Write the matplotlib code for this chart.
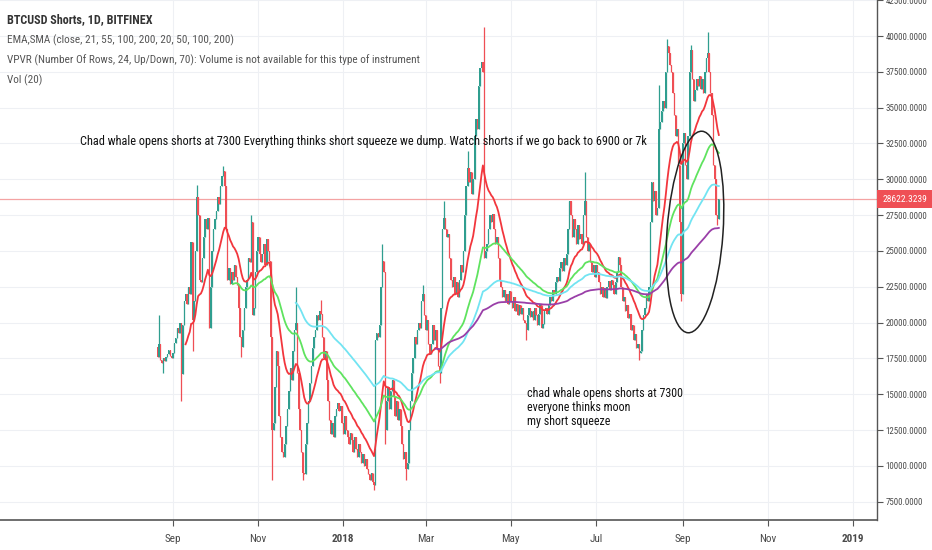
import numpy as np
import pandas as pd
import matplotlib
matplotlib.use("Agg")
import matplotlib.pyplot as plt
import matplotlib.dates as mdates
from matplotlib import font_manager as fm
from matplotlib.patches import Ellipse, Rectangle
from matplotlib.transforms import IdentityTransform, blended_transform_factory

# ---------------- data ----------------
start_date = "2017-08-21"
first_open_k = 18.3
closes_k = [
    17.6, 18.5, 17.4, 17.2, 17.5, 17.3, 17.6, 17.8, 18.1, 17.7, 17.5, 17.9, 18.6,
    18.9, 19.6, 19.3, 20.0, 16.4,
    19.8, 21.5, 22.0, 21.3, 22.5, 22.0, 25.6, 20.2,
    21.5, 25.0, 28.8, 27.5, 23.0, 22.8,
    24.5, 26.0, 27.2, 26.5, 27.3,
    19.6,
    22.5, 25.0, 26.5, 27.2, 27.8, 28.8, 28.3, 29.5, 30.2,
    30.6, 29.5, 26.5, 23.0,
    23.8, 22.7, 23.5, 23.0, 24.0, 23.2, 22.6, 21.0, 19.0, 18.3,
    19.5, 21.0, 22.5, 23.0, 24.5, 24.2,
    27.0, 20.5, 21.0,
    23.5, 25.0, 26.0, 24.8,
    24.2, 24.8, 25.5, 24.0, 25.8, 25.0, 24.3,
    19.0, 12.5, 13.0, 15.5, 18.0, 17.0, 13.5, 12.0, 11.0, 10.6,
    11.5, 12.8, 14.0, 15.2, 16.8, 16.0, 18.0, 19.5, 20.0,
    16.5, 14.0, 12.5, 11.0, 9.5, 9.4,
    11.5, 13.0, 14.5, 15.8, 17.0, 18.2, 19.0,
    19.5, 20.5, 20.2, 20.8, 20.6,
    19.0, 17.5, 18.0, 16.0, 14.5, 13.2, 12.2, 13.0, 12.0,
    13.5, 14.0, 14.4, 13.8, 14.2,
    13.0, 12.2, 13.5, 12.5, 12.0, 11.5, 12.3, 11.8, 11.0, 12.0, 11.2, 10.6, 11.5,
    11.0, 10.2, 10.8, 10.0, 10.5, 9.8, 9.4, 9.0, 9.5, 8.9, 8.7,
    18.8, 19.3, 19.0, 19.8, 22.5, 24.3,
    23.5, 12.5, 14.5, 15.5, 14.0, 15.2, 16.0, 14.8, 13.5, 14.5, 13.2, 14.0, 12.8,
    11.5, 10.5, 11.0, 9.8, 10.2,
    12.5, 14.5, 16.5, 17.5, 19.0, 18.5, 19.5, 20.0, 19.6, 21.5, 22.0,
    20.5, 19.5, 20.2, 18.5, 17.8, 18.5, 19.8, 18.8, 19.5, 18.2, 17.0, 16.5,
    21.0, 26.5, 27.3, 26.5, 26.0, 26.2,
    24.5, 23.0, 22.5, 23.2, 22.0, 22.8, 21.8, 23.0, 24.0, 23.5, 25.0,
    27.5, 29.5, 30.8, 29.8, 30.5, 29.0, 30.0,
    33.0, 34.2, 33.5, 36.5, 37.8, 38.2, 37.5,
    24.5, 25.0, 25.5, 26.5, 27.5, 27.0, 27.6, 26.5, 25.5, 26.0, 24.5, 23.0, 22.5, 21.8,
    22.3, 21.5, 22.0, 21.3, 22.2, 21.5, 21.0, 21.8, 20.8, 21.3, 20.5, 21.2, 20.6, 21.0, 20.2, 20.0, 19.5,
    20.5, 21.0, 20.4, 20.8, 20.2, 21.0, 20.5, 19.8, 20.6, 21.2, 19.6, 19.9, 20.8, 21.0, 20.6,
    21.2, 21.8, 21.5, 22.3, 22.0, 22.8, 23.2, 22.9, 23.8, 24.2, 23.6, 24.5, 24.0, 24.8,
    26.5, 28.5, 27.5, 26.0, 27.2, 26.5, 25.5, 26.8, 25.8, 26.2, 25.5, 27.5, 28.5,
    26.0, 25.0, 25.5, 24.2, 23.5, 24.0, 23.2, 24.0, 23.5, 22.8, 22.0, 22.5, 21.8, 22.4, 21.7,
    22.5, 22.9, 22.3, 23.0, 22.6, 22.0, 22.8, 23.5, 24.6, 24.0,
    22.5, 21.5, 21.8, 20.8, 21.2, 20.3, 20.6, 19.5, 19.8, 18.8, 19.2, 18.2, 18.5, 17.9, 18.0,
    19.5, 20.5, 21.0, 22.0, 21.5, 22.5, 27.0, 29.8,
    28.5, 29.2, 27.5, 28.0, 33.5, 34.0,
    34.8, 35.5, 35.0, 37.5, 39.3, 38.8, 38.0, 37.5,
    36.0, 34.5, 33.0, 33.5, 31.0, 27.0, 22.0,
    32.5, 33.2, 31.0, 30.0, 33.0, 37.5, 39.0,
    37.0, 35.5, 36.2, 37.0, 36.5, 37.2, 36.3, 37.0, 36.0, 37.5, 38.5, 38.8,
    37.5, 36.0, 34.5, 31.0, 30.0, 27.5, 27.2, 28.6223239,
]
# notable wick extremes (candle index -> price in thousands)
wick_high_k = {1: 20.5, 28: 29.6, 47: 30.9, 67: 27.5, 99: 22.5, 117: 21.6,
               161: 25.5, 190: 22.6, 205: 28.5, 222: 32.0, 234: 40.6, 306: 30.5,
               359: 36.6, 365: 39.8, 382: 39.4, 394: 40.3}
wick_low_k = {4: 16.5, 17: 14.5, 25: 18.0, 60: 17.6, 82: 9.0, 104: 9.0,
              155: 8.3, 163: 11.5, 178: 9.0, 202: 15.8, 264: 18.8, 345: 17.4,
              375: 21.5, 401: 26.8}
last_price = 28622.3239
ema_lengths = [21, 55, 100, 200]
ema_colors = ["#f2363d", "#5fe35f", "#72e4f2", "#9a3fa8"]
y_ticks = [7500, 10000, 12500, 15000, 17500, 20000, 22500, 25000, 27500,
           30000, 32500, 35000, 37500, 40000, 42500]
x_tick_dates = ["2017-09-01", "2017-11-01", "2018-01-01", "2018-03-01", "2018-05-01",
                "2018-07-01", "2018-09-01", "2018-11-01", "2019-01-01"]
x_tick_labels = ["Sep", "Nov", "2018", "Mar", "May", "Jul", "Sep", "Nov", "2019"]
header_lines = ["BTCUSD Shorts, 1D, BITFINEX",
                "EMA,SMA (close, 21, 55, 100, 200, 20, 50, 100, 200)",
                "VPVR (Number Of Rows, 24, Up/Down, 70): Volume is not available for this type of instrument",
                "Vol (20)"]
note_main = ("Chad whale opens shorts at 7300 Everything thinks short squeeze we dump. "
             "Watch shorts if we go back to 6900 or 7k")
note_side = ["chad whale opens shorts at 7300", "everyone thinks moon", "my short squeeze"]

# ---------------- fonts ----------------
def pick(cands):
    for c in cands:
        try:
            fm.findfont(fm.FontProperties(family=c), fallback_to_default=False)
            return c
        except Exception:
            pass
    return "DejaVu Sans"

narrow = pick(["Liberation Sans Narrow", "Roboto Condensed", "Open Sans Condensed", "Liberation Sans"])
plt.rcParams["font.family"] = [narrow, "DejaVu Sans"]

# ---------------- prepare ----------------
closes = np.array(closes_k) * 1000.0
opens = np.concatenate([[first_open_k * 1000.0], closes[:-1]])
dates = pd.date_range(start_date, periods=len(closes), freq="D")
xd = mdates.date2num(dates)
highs = np.maximum(opens, closes)
lows = np.minimum(opens, closes)
for k, v in wick_high_k.items():
    highs[k] = max(highs[k], v * 1000)
for k, v in wick_low_k.items():
    lows[k] = min(lows[k], v * 1000)
up = closes >= opens
col_up, col_dn = "#2f9e8f", "#ef4f55"
colors = np.where(up, col_up, col_dn)


def ema(vals, n):
    out = np.full(len(vals), np.nan)
    if len(vals) < n:
        return out
    out[n - 1] = vals[:n].mean()
    a = 2.0 / (n + 1)
    for i in range(n, len(vals)):
        out[i] = a * vals[i] + (1 - a) * out[i - 1]
    return out

# ---------------- figure ----------------
W, H = 932, 550
fig = plt.figure(figsize=(W / 100, H / 100), dpi=100)
fig.patch.set_facecolor("white")
ax_right_px, ax_bottom_px = 877.3, 520
ax = fig.add_axes([0, (H - ax_bottom_px) / H, ax_right_px / W, ax_bottom_px / H])
ax.set_facecolor("white")

sep1 = mdates.date2num(pd.Timestamp("2017-09-01"))
px_per_day = 1.396
x0_px = 173.0
ax.set_xlim(sep1 - x0_px / px_per_day, sep1 + (ax_right_px - x0_px) / px_per_day)
ax.set_ylim(6223, 42514)

# grid
ax.set_yticks(y_ticks)
ax.set_yticklabels([f"{v:.4f}" for v in y_ticks])
xt = mdates.date2num(pd.to_datetime(x_tick_dates))
ax.set_xticks(xt)
ax.set_xticklabels(x_tick_labels)
ax.grid(True, color="#eef0f4", lw=0.8, zorder=0)
ax.set_axisbelow(True)

# candles
ax.vlines(xd, lows, highs, colors=colors, lw=0.9, zorder=2)
ax.bar(xd, np.maximum(np.abs(closes - opens), 60), bottom=np.minimum(opens, closes),
       width=0.95, color=colors, linewidth=0, zorder=3)

# EMAs
for n, c in zip(ema_lengths, ema_colors):
    ax.plot(xd, ema(closes, n), color=c, lw=1.3, zorder=4)

# last price line and label
ax.axhline(last_price, color="#f4a3a3", lw=0.9, zorder=1)
bt = blended_transform_factory(ax.transAxes, ax.transData)
ppu = 69.8  # price units per pixel
ax.add_patch(Rectangle((1.0, last_price - 9 * ppu), (W - ax_right_px) / ax_right_px, 18 * ppu,
                       transform=bt, facecolor="#ef4f55", edgecolor="none", clip_on=False, zorder=6))
ax.text(1.0 + 27.5 / ax_right_px, last_price, f"{last_price:.4f}", transform=bt, ha="center",
        va="center", color="white", fontsize=6.8, zorder=7, clip_on=False)

# axes styling
for s in ["left", "top"]:
    ax.spines[s].set_visible(False)
ax.spines["right"].set_color("#555555")
ax.spines["bottom"].set_color("#555555")
ax.spines["right"].set_linewidth(1.0)
ax.spines["bottom"].set_linewidth(1.2)
ax.yaxis.tick_right()
ax.tick_params(axis="y", colors="#555555", labelcolor="#4a4a4a", labelsize=6.4, length=4, pad=2)
ax.tick_params(axis="x", colors="#555555", labelcolor="#4a4a4a", labelsize=8.0, length=4, pad=6)
for lab in ax.get_xticklabels():
    if lab.get_text() in ("2018", "2019"):
        lab.set_fontweight("bold")

# header text
fig.text(7 / W, 1 - 20 / H, header_lines[0], fontsize=8.7, color="#333333", fontweight="bold", va="center")
for j, line in enumerate(header_lines[1:]):
    fig.text(7 / W, 1 - (40.5 + 20 * j) / H, line, fontsize=8.15, color="#555555", va="center")

# annotations
fig.text(80 / W, 1 - 142 / H, note_main, fontsize=8.8, color="#111111", va="center", zorder=8)
for j, line in enumerate(note_side):
    fig.text(527 / W, 1 - (393 + 14.3 * j) / H, line, fontsize=8.65, color="#111111", va="center", zorder=8)

ell = Ellipse((695, H - 232), 56, 202, angle=-4, transform=IdentityTransform(),
              fill=False, edgecolor="#222222", lw=1.1, zorder=9)
fig.add_artist(ell)

fig.savefig("out.png", dpi=100)
